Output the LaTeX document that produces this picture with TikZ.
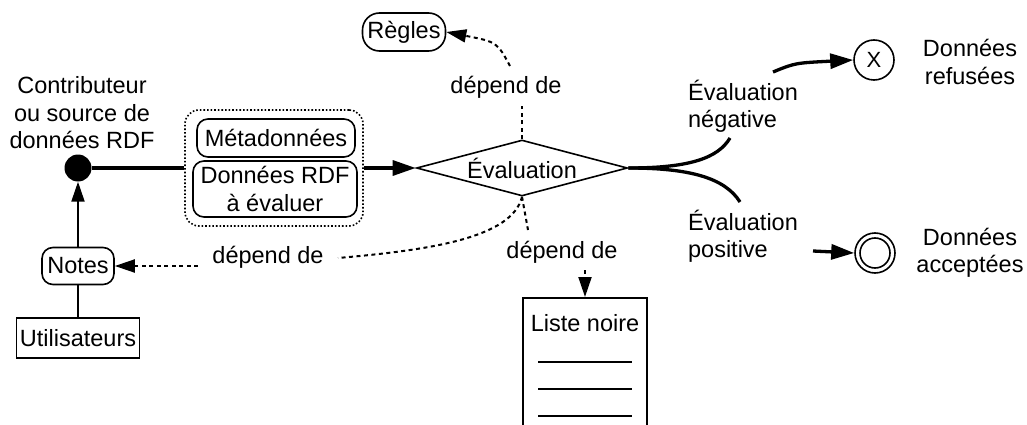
\documentclass[tikz,border=0pt]{standalone}
\usepackage{fontspec}
\setmainfont{Liberation Sans}
\usepackage{tikz}
\usetikzlibrary{positioning}
\usetikzlibrary{arrows.meta,shapes,shapes.geometric}
\usetikzlibrary{calc}
\tikzstyle{plaintext}=[font=\fontsize{23.5}{27.5}\selectfont, align=center, inner sep=0pt]
\tikzstyle{roundbox}=[draw, line width=1.6pt, rounded corners=11pt, inner sep=0pt, font=\fontsize{23.5}{27.5}\selectfont, align=center]
\tikzstyle{squarebox}=[draw, line width=1.6pt, inner sep=0pt, font=\fontsize{23.5}{27.5}\selectfont, align=center]
\tikzstyle{groupbox}=[draw, line width=1.6pt, dotted, rounded corners=14pt, minimum width=178pt, minimum height=116pt, inner sep=0pt]
\tikzstyle{decision}=[diamond, draw, line width=1.6pt, aspect=3.75, inner sep=0pt, minimum width=211pt, minimum height=56pt, font=\fontsize{23.5}{27.5}\selectfont]
\tikzstyle{dot}=[circle, fill=black, minimum size=27pt, inner sep=0pt]
\tikzstyle{endstate}=[circle, draw, line width=1.6pt, minimum size=40pt, inner sep=0pt, font=\fontsize{22}{26}\selectfont]
\tikzstyle{tip}=[-{Triangle[length=20pt,width=13pt]}]
\tikzstyle{bigtip}=[-{Triangle[length=23pt,width=15pt]}]
\tikzstyle{flowline} = [draw, line width=3.3pt]
\tikzstyle{solidline} = [draw, line width=2pt]
\tikzstyle{depline} = [draw, line width=2pt, dash pattern=on 4pt off 3.5pt]

\begin{document}
\begin{tikzpicture}[x=1pt, y=-1pt]
\useasboundingbox (0,0) rectangle (1027,425);

   % sources
   \node[dot] (contrib) at (78,168) {};
   \node[plaintext] (contribtxt) at (82,113) {Contributeur\\ou source de\\données RDF};
   \node[roundbox, minimum width=72pt, minimum height=37pt] (notes) at (78,266) {Notes};
   \node[squarebox, minimum width=123pt, minimum height=40pt] (users) at (78,338) {Utilisateurs};

   % donnees soumises
   \node[groupbox] (group) at (274,168) {};
   \node[roundbox, minimum width=158pt, minimum height=38pt] (meta) at (276,138) {Métadonnées};
   \node[roundbox, minimum width=164pt, minimum height=56pt] (rdf) at (275,189) {Données RDF\\à évaluer};

   % evaluation et dependances
   \node[decision] (eval) at (522,168) {Évaluation};
   \node[roundbox, rounded corners=17pt, minimum width=83pt, minimum height=38pt] (regles) at (404,32) {Règles};
   \node[squarebox, minimum width=124pt, minimum height=150pt, anchor=north] (liste) at (585,297) {};
   \node[plaintext] (listetxt) at (585,323) {Liste noire};
   \foreach \y in {362,389,416}
        \draw[line width=2pt] (538,\y) -- (632,\y);

   \foreach \pos/\name in {{(506,87)/deptop}, {(268,257)/depleft}, {(562,252)/depbottom}}
        \node[plaintext] (\name) at \pos {dépend de};

   % issues
   \node[endstate] (refus) at (874,60) {X};
   \node[endstate] (accept) at (875,253) {};
   \node[endstate, minimum size=30pt] (acceptin) at (875,253) {};
   \node[plaintext] (refustxt) at (970,62) {Données\\refusées};
   \node[plaintext] (accepttxt) at (970,253) {Données\\acceptées};
   \node[plaintext, align=left] (negtxt) at (743,106) {Évaluation\\négative};
   \node[plaintext, align=left] (postxt) at (743,236) {Évaluation\\positive};

   \coordinate (negend) at (730,138);
   \coordinate (negstart) at (773,72);
   \coordinate (posend) at (740,202);
   \coordinate (posstart) at (813,251);
   \coordinate (deptopa) at (522,106);
   \coordinate (deptopb) at (510,66);
   \coordinate (deplefta) at (198,266);
   \coordinate (depleftb) at (338,258);
   \coordinate (depbota) at (528,230);
   \coordinate (depbotb) at (585,270);

    % flux principal
   \path[flowline] (contrib) -- (group.west);
   \path[flowline, bigtip] (group.east) -- (eval.west);
   \path[solidline, tip] (notes.north) -- (contrib.south);
   \path[solidline] (users.north) -- (notes.south);
   \path[flowline] (eval.east) .. controls (690,168) and (718,158) .. (negend);
   \path[flowline, bigtip] (negstart) .. controls (795,63) .. (refus.west);
   \path[flowline] (eval.east) .. controls (690,168) and (725,178) .. (posend);
   \path[flowline, bigtip] (posstart) -- (accept.west);

    % dependances
   \path[depline] (eval.north) -- (deptopa);
   \path[depline, tip] (deptopb) .. controls (497,42) .. (regles.east);
   \path[depline] (eval.south) .. controls (512,238) and (430,250) .. (depleftb);
   \path[depline, tip] (deplefta) -- (notes.east);
   \path[depline] (eval.south) -- (depbota);
   \path[depline, tip] (depbotb) -- (liste.north);

\end{tikzpicture}
\end{document}
